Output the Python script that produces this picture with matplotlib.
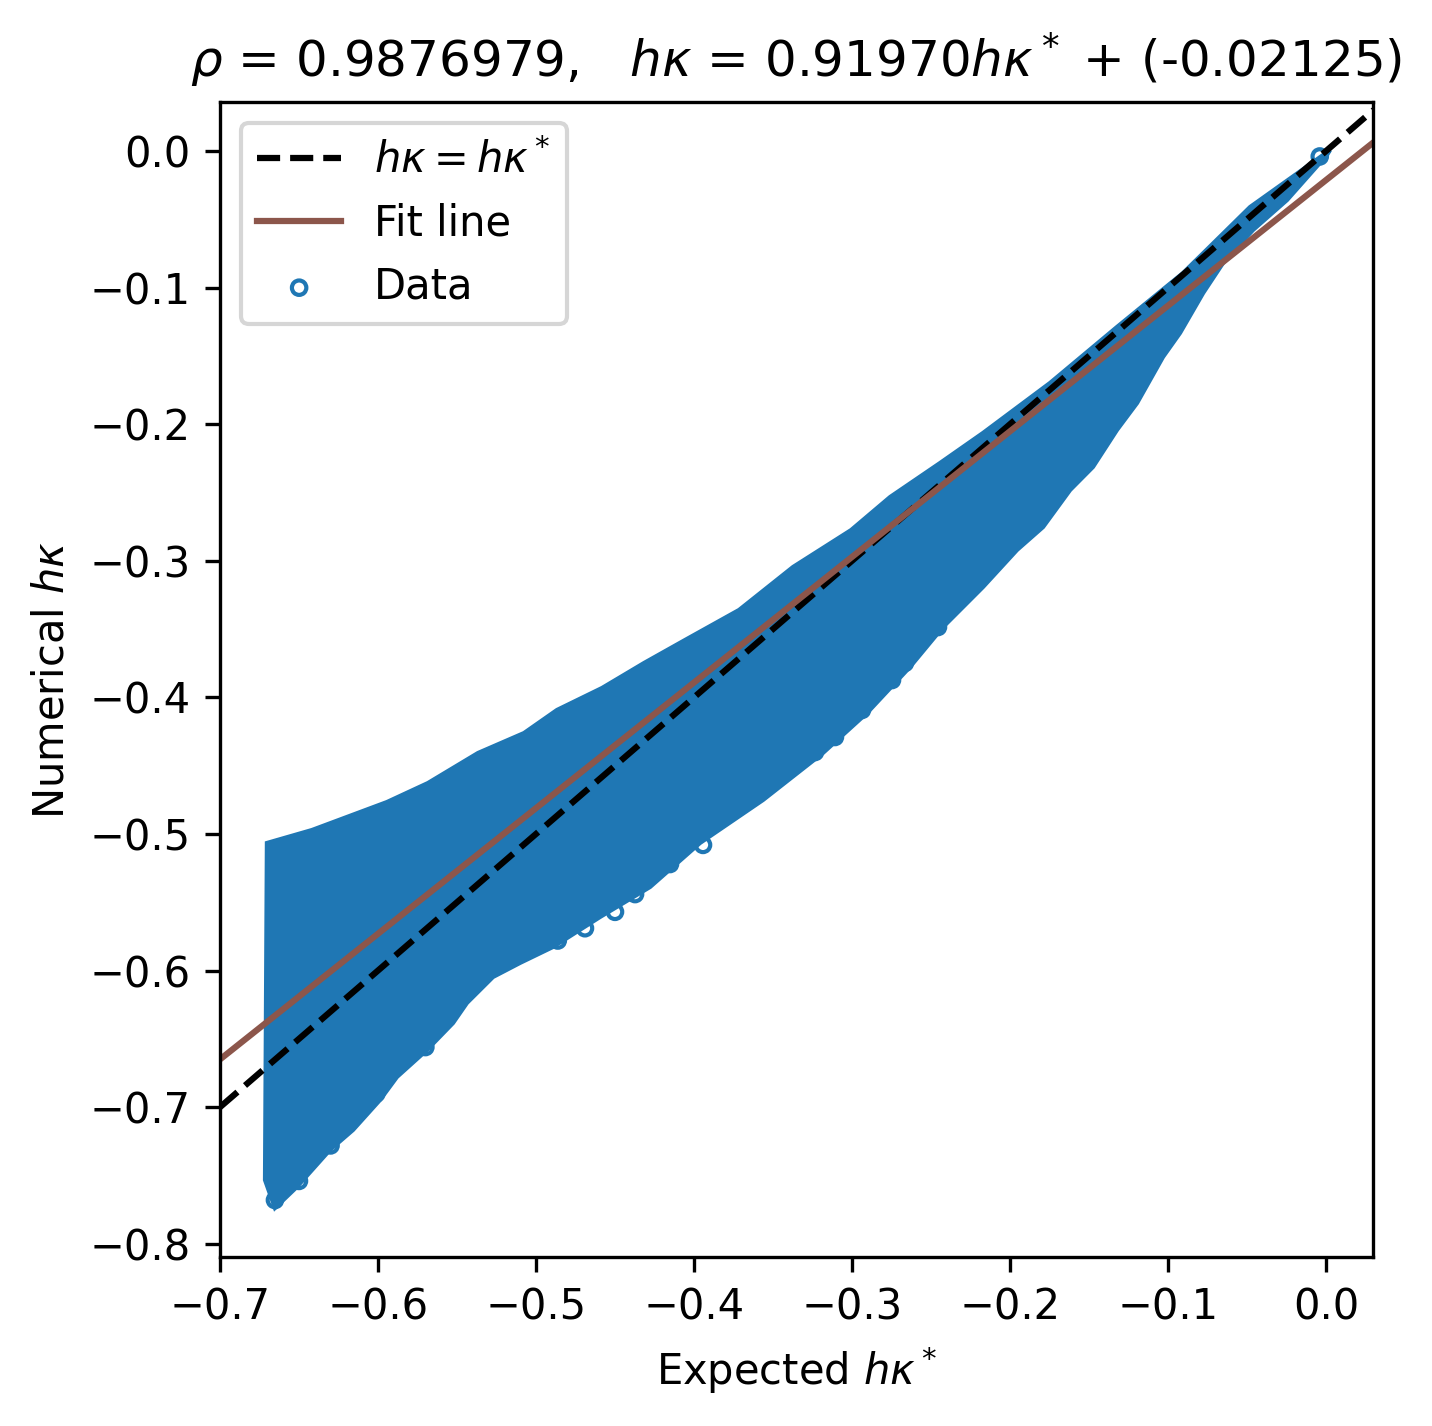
import numpy as np
import matplotlib
matplotlib.use("Agg")
import matplotlib.pyplot as plt

# Summary numbers shown in the title
rho = 0.9876979
slope = 0.91970
intercept = -0.02125

# x range used for both reference lines
line_x = [-0.7, 0.03]

# Outline of the dense data cloud
upper_x = [-0.6703, -0.6418, -0.5943, -0.5684, -0.5367, -0.5076, -0.4867,
           -0.4582, -0.4316, -0.4057, -0.3715, -0.3373, -0.3006, -0.2759,
           -0.2443, -0.2171, -0.1747, -0.1323, -0.0905, -0.0481, 0.0025]
upper_y = [-0.5066, -0.4971, -0.4766, -0.4627, -0.4407, -0.4261, -0.4092,
           -0.3931, -0.3748, -0.3580, -0.3360, -0.3045, -0.2775, -0.2533,
           -0.2284, -0.2064, -0.1698, -0.1288, -0.0893, -0.0410, 0.0007]

lower_x = [-0.6715, -0.6652, -0.6513, -0.6304, -0.6158, -0.5987, -0.5880,
           -0.5690, -0.5525, -0.5437, -0.5272, -0.5101, -0.4892, -0.4595,
           -0.4278, -0.3962, -0.3563, -0.3184, -0.2905, -0.2633, -0.2424,
           -0.2171, -0.1956, -0.1791, -0.1620, -0.1475, -0.1323, -0.1196,
           -0.1032, -0.0924, -0.0778, -0.0652, -0.0462, -0.0247, 0.0006]
lower_y = [-0.7533, -0.7738, -0.7584, -0.7313, -0.7167, -0.6947, -0.6779,
           -0.6581, -0.6384, -0.6237, -0.6047, -0.5944, -0.5827, -0.5608,
           -0.5388, -0.5066, -0.4751, -0.4407, -0.4114, -0.3777, -0.3485,
           -0.3192, -0.2921, -0.2753, -0.2482, -0.2313, -0.2042, -0.1845,
           -0.1508, -0.1332, -0.1040, -0.0820, -0.0578, -0.0359, -0.0029]

# Single stray points visible along the lower edge of the cloud
stray_x = [-0.4862, -0.4690, -0.4500, -0.4373, -0.4152, -0.3943, -0.3810,
           -0.3709, -0.3493, -0.3234, -0.3108, -0.2937, -0.2747, -0.2665,
           -0.2456, -0.6652, -0.6500, -0.6300, -0.6010, -0.5700, -0.0040]
stray_y = [-0.5780, -0.5690, -0.5570, -0.5440, -0.5220, -0.5080, -0.4861,
           -0.4766, -0.4583, -0.4400, -0.4290, -0.4092, -0.3873, -0.3748,
           -0.3485, -0.7680, -0.7540, -0.7280, -0.6900, -0.6560, -0.0040]

fig = plt.figure(figsize=(1432 / 300, 1426 / 300), dpi=300)
ax = fig.add_axes([0.1536, 0.1185, 0.9588 - 0.1536, 0.9285 - 0.1185])

# cloud of points
poly_x = upper_x + lower_x[::-1]
poly_y = upper_y + lower_y[::-1]
ax.fill(poly_x, poly_y, color="C0", lw=1.0, zorder=1)
pts = ax.scatter(stray_x, stray_y, s=12, facecolors="none", edgecolors="C0",
                 linewidths=1.0, zorder=1, label="Data")

diag, = ax.plot(line_x, line_x, "k--", lw=1.5, label=r"$h\kappa = h\kappa^*$")
fit_y = [slope * v + intercept for v in line_x]
fit, = ax.plot(line_x, fit_y, color="C5", lw=1.5, label="Fit line")

ax.set_xlim(-0.7, 0.0297)
ax.set_ylim(-0.8097, 0.0359)
ax.set_xlabel(r"Expected $h\kappa^*$")
ax.set_ylabel(r"Numerical $h\kappa$")
ax.set_title(r"$\rho$ = %.7f,   $h\kappa$ = %.5f$h\kappa^*$ + (%.5f)"
             % (rho, slope, intercept))
ax.legend(handles=[diag, fit, pts], loc="upper left")

fig.savefig("out.png", dpi=300)
